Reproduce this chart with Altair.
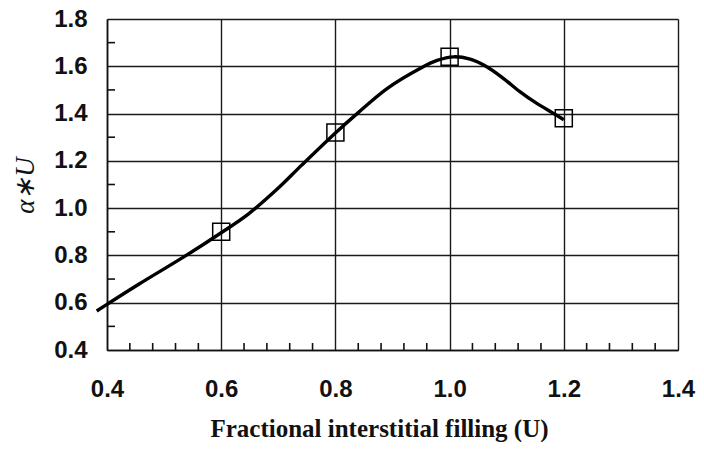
import altair as alt
import pandas as pd

# Measured points (squares)
pt_x = [0.6, 0.8, 1.0, 1.2]
pt_y = [0.90, 1.32, 1.64, 1.38]

# Smooth curve
cv_x = [0.382, 0.40, 0.457, 0.538, 0.60, 0.648, 0.70, 0.741, 0.80, 0.839,
        0.891, 0.949, 0.978, 1.007, 1.036, 1.065, 1.094, 1.123, 1.152, 1.181, 1.20]
cv_y = [0.565, 0.593, 0.680, 0.799, 0.896, 0.976, 1.085, 1.182, 1.318, 1.402,
        1.507, 1.592, 1.625, 1.640, 1.630, 1.598, 1.549, 1.493, 1.444, 1.402, 1.374]

x_ticks = [0.4, 0.6, 0.8, 1.0, 1.2, 1.4]
y_ticks = [0.4, 0.6, 0.8, 1.0, 1.2, 1.4, 1.6, 1.8]
x_minor = [round(0.4 + 0.04 * i, 2) for i in range(26) if i % 5 != 0]
y_minor = [0.5, 0.7, 0.9, 1.1, 1.3, 1.5, 1.7]

W, H = 571, 331

pts = pd.DataFrame({"u": pt_x, "a": pt_y})
curve = pd.DataFrame({"u": cv_x, "a": cv_y, "o": list(range(len(cv_x)))})
xm = pd.DataFrame({"u": x_minor})
ym = pd.DataFrame({"a": y_minor})

xscale = alt.Scale(domain=[0.4, 1.4], nice=False, zero=False)
yscale = alt.Scale(domain=[0.4, 1.8], nice=False, zero=False)

xaxis = alt.Axis(values=x_ticks, format=".1f", grid=True, ticks=False, tickSize=0,
                 labelFlush=False, labelOverlap=False,
                 labelFont="Liberation Sans", labelFontWeight="bold", labelFontSize=24,
                 labelColor="#111", labelPadding=27,
                 title="Fractional interstitial filling (U)",
                 titleFont="Liberation Serif", titleFontWeight="bold", titleFontSize=25,
                 titleColor="#111", titleX=272, titleY=86, titleBaseline="alphabetic",
                 titleAlign="center",
                 domainColor="#111", domainWidth=1.6, gridColor="#1a1a1a", gridWidth=1.4)
yaxis = alt.Axis(values=y_ticks, format=".1f", grid=True, ticks=False, tickSize=0,
                 labelFlush=False, labelOverlap=False,
                 labelFont="Liberation Sans", labelFontWeight="bold", labelFontSize=24,
                 labelColor="#111", labelPadding=20, labelBaseline="middle",
                 title="α∗U", titleFont="Liberation Serif", titleFontStyle="italic",
                 titleFontWeight="normal", titleFontSize=27, titleColor="#111",
                 titleAngle=270, titleX=-82, titleY=166, titleAlign="center",
                 titleBaseline="middle",
                 domainColor="#111", domainWidth=1.6, gridColor="#1a1a1a", gridWidth=1.4)

line = alt.Chart(curve).mark_line(color="black", strokeWidth=3.4,
                                  interpolate="catmull-rom").encode(
    x=alt.X("u:Q", scale=xscale, axis=xaxis),
    y=alt.Y("a:Q", scale=yscale, axis=yaxis),
    order="o:Q",
)

squares = alt.Chart(pts).mark_point(shape="square", size=290, filled=False,
                                    color="black", strokeWidth=1.5, opacity=1).encode(
    x=alt.X("u:Q", scale=xscale),
    y=alt.Y("a:Q", scale=yscale),
)

xminor = alt.Chart(xm).mark_rule(color="#111", strokeWidth=1.6).encode(
    x=alt.X("u:Q", scale=xscale),
    y=alt.value(H),
    y2=alt.value(H - 7),
)

yminor = alt.Chart(ym).mark_rule(color="#111", strokeWidth=1.6).encode(
    y=alt.Y("a:Q", scale=yscale),
    x=alt.value(0),
    x2=alt.value(8),
)

chart = alt.layer(line, xminor, yminor, squares).properties(
    width=W, height=H,
    autosize=alt.AutoSizeParams(type="none"),
    padding={"left": 99, "top": 11, "right": 18, "bottom": 92},
).configure_view(stroke="#888", strokeWidth=1.4).configure(background="white")

chart.save("out.html", embed_options={"renderer": "svg", "actions": False})
